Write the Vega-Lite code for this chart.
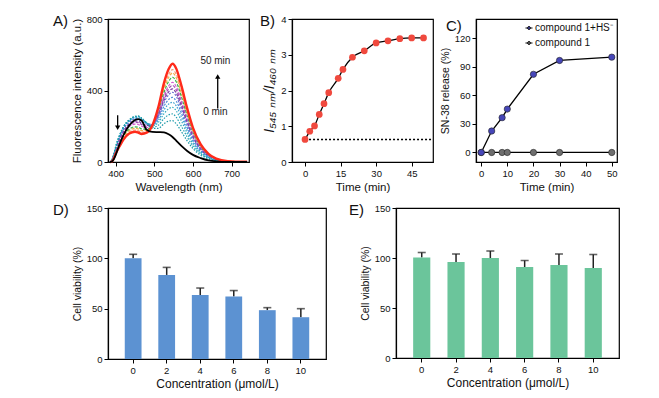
{
  "$schema": "https://vega.github.io/schema/vega-lite/v6.json",
  "padding": {"left": 52, "top": 13, "right": 5, "bottom": 5},
  "background": "white",
  "datasets": {
    "spec": [
      {"c":"1","w":385,"v":0},{"c":"1","w":390,"v":3},{"c":"1","w":395,"v":21},{"c":"1","w":400,"v":47},{"c":"1","w":410,"v":88},{"c":"1","w":420,"v":125},{"c":"1","w":435,"v":159},{"c":"1","w":450,"v":169},{"c":"1","w":458,"v":165},{"c":"1","w":467,"v":157},{"c":"1","w":480,"v":164},{"c":"1","w":495,"v":206},{"c":"1","w":510,"v":304},{"c":"1","w":525,"v":443},{"c":"1","w":537,"v":520},{"c":"1","w":547,"v":550},{"c":"1","w":557,"v":521},{"c":"1","w":570,"v":427},{"c":"1","w":585,"v":300},{"c":"1","w":600,"v":191},{"c":"1","w":620,"v":98},{"c":"1","w":640,"v":46},{"c":"1","w":660,"v":19},{"c":"1","w":690,"v":5},{"c":"1","w":740,"v":1},
      {"c":"2","w":385,"v":0},{"c":"2","w":390,"v":4},{"c":"2","w":395,"v":24},{"c":"2","w":400,"v":51},{"c":"2","w":410,"v":95},{"c":"2","w":420,"v":133},{"c":"2","w":435,"v":168},{"c":"2","w":450,"v":179},{"c":"2","w":458,"v":175},{"c":"2","w":467,"v":167},{"c":"2","w":480,"v":170},{"c":"2","w":495,"v":204},{"c":"2","w":510,"v":292},{"c":"2","w":525,"v":419},{"c":"2","w":537,"v":490},{"c":"2","w":547,"v":517},{"c":"2","w":557,"v":489},{"c":"2","w":570,"v":400},{"c":"2","w":585,"v":281},{"c":"2","w":600,"v":179},{"c":"2","w":620,"v":92},{"c":"2","w":640,"v":43},{"c":"2","w":660,"v":18},{"c":"2","w":690,"v":5},{"c":"2","w":740,"v":0},
      {"c":"3","w":385,"v":0},{"c":"3","w":390,"v":4},{"c":"3","w":395,"v":26},{"c":"3","w":400,"v":55},{"c":"3","w":410,"v":101},{"c":"3","w":420,"v":141},{"c":"3","w":435,"v":176},{"c":"3","w":450,"v":188},{"c":"3","w":458,"v":185},{"c":"3","w":467,"v":176},{"c":"3","w":480,"v":177},{"c":"3","w":495,"v":205},{"c":"3","w":510,"v":286},{"c":"3","w":525,"v":406},{"c":"3","w":537,"v":473},{"c":"3","w":547,"v":498},{"c":"3","w":557,"v":470},{"c":"3","w":570,"v":384},{"c":"3","w":585,"v":270},{"c":"3","w":600,"v":172},{"c":"3","w":620,"v":88},{"c":"3","w":640,"v":42},{"c":"3","w":660,"v":17},{"c":"3","w":690,"v":5},{"c":"3","w":740,"v":0},
      {"c":"4","w":385,"v":0},{"c":"4","w":390,"v":5},{"c":"4","w":395,"v":28},{"c":"4","w":400,"v":59},{"c":"4","w":410,"v":108},{"c":"4","w":420,"v":148},{"c":"4","w":435,"v":184},{"c":"4","w":450,"v":197},{"c":"4","w":458,"v":195},{"c":"4","w":467,"v":185},{"c":"4","w":480,"v":183},{"c":"4","w":495,"v":205},{"c":"4","w":510,"v":278},{"c":"4","w":525,"v":389},{"c":"4","w":537,"v":451},{"c":"4","w":547,"v":474},{"c":"4","w":557,"v":447},{"c":"4","w":570,"v":365},{"c":"4","w":585,"v":256},{"c":"4","w":600,"v":163},{"c":"4","w":620,"v":84},{"c":"4","w":640,"v":40},{"c":"4","w":660,"v":16},{"c":"4","w":690,"v":5},{"c":"4","w":740,"v":0},
      {"c":"5","w":385,"v":0},{"c":"5","w":390,"v":6},{"c":"5","w":395,"v":31},{"c":"5","w":400,"v":65},{"c":"5","w":410,"v":118},{"c":"5","w":420,"v":160},{"c":"5","w":435,"v":198},{"c":"5","w":450,"v":212},{"c":"5","w":458,"v":210},{"c":"5","w":467,"v":200},{"c":"5","w":480,"v":193},{"c":"5","w":495,"v":208},{"c":"5","w":510,"v":271},{"c":"5","w":525,"v":370},{"c":"5","w":537,"v":426},{"c":"5","w":547,"v":446},{"c":"5","w":557,"v":420},{"c":"5","w":570,"v":342},{"c":"5","w":585,"v":240},{"c":"5","w":600,"v":153},{"c":"5","w":620,"v":78},{"c":"5","w":640,"v":37},{"c":"5","w":660,"v":15},{"c":"5","w":690,"v":4},{"c":"5","w":740,"v":0},
      {"c":"6","w":385,"v":0},{"c":"6","w":390,"v":7},{"c":"6","w":395,"v":33},{"c":"6","w":400,"v":69},{"c":"6","w":410,"v":124},{"c":"6","w":420,"v":168},{"c":"6","w":435,"v":206},{"c":"6","w":450,"v":221},{"c":"6","w":458,"v":220},{"c":"6","w":467,"v":209},{"c":"6","w":480,"v":200},{"c":"6","w":495,"v":209},{"c":"6","w":510,"v":265},{"c":"6","w":525,"v":358},{"c":"6","w":537,"v":410},{"c":"6","w":547,"v":428},{"c":"6","w":557,"v":402},{"c":"6","w":570,"v":327},{"c":"6","w":585,"v":230},{"c":"6","w":600,"v":146},{"c":"6","w":620,"v":75},{"c":"6","w":640,"v":35},{"c":"6","w":660,"v":14},{"c":"6","w":690,"v":4},{"c":"6","w":740,"v":0},
      {"c":"7","w":385,"v":0},{"c":"7","w":390,"v":8},{"c":"7","w":395,"v":35},{"c":"7","w":400,"v":72},{"c":"7","w":410,"v":129},{"c":"7","w":420,"v":174},{"c":"7","w":435,"v":213},{"c":"7","w":450,"v":229},{"c":"7","w":458,"v":228},{"c":"7","w":467,"v":216},{"c":"7","w":480,"v":205},{"c":"7","w":495,"v":209},{"c":"7","w":510,"v":259},{"c":"7","w":525,"v":345},{"c":"7","w":537,"v":393},{"c":"7","w":547,"v":409},{"c":"7","w":557,"v":384},{"c":"7","w":570,"v":312},{"c":"7","w":585,"v":219},{"c":"7","w":600,"v":140},{"c":"7","w":620,"v":71},{"c":"7","w":640,"v":34},{"c":"7","w":660,"v":13},{"c":"7","w":690,"v":4},{"c":"7","w":740,"v":0},
      {"c":"8","w":385,"v":0},{"c":"8","w":390,"v":8},{"c":"8","w":395,"v":37},{"c":"8","w":400,"v":76},{"c":"8","w":410,"v":136},{"c":"8","w":420,"v":182},{"c":"8","w":435,"v":222},{"c":"8","w":450,"v":239},{"c":"8","w":458,"v":238},{"c":"8","w":467,"v":227},{"c":"8","w":480,"v":212},{"c":"8","w":495,"v":211},{"c":"8","w":510,"v":254},{"c":"8","w":525,"v":332},{"c":"8","w":537,"v":376},{"c":"8","w":547,"v":390},{"c":"8","w":557,"v":366},{"c":"8","w":570,"v":297},{"c":"8","w":585,"v":208},{"c":"8","w":600,"v":133},{"c":"8","w":620,"v":68},{"c":"8","w":640,"v":32},{"c":"8","w":660,"v":12},{"c":"8","w":690,"v":4},{"c":"8","w":740,"v":0},
      {"c":"9","w":385,"v":0},{"c":"9","w":390,"v":9},{"c":"9","w":395,"v":39},{"c":"9","w":400,"v":79},{"c":"9","w":410,"v":141},{"c":"9","w":420,"v":188},{"c":"9","w":435,"v":227},{"c":"9","w":450,"v":245},{"c":"9","w":458,"v":245},{"c":"9","w":467,"v":233},{"c":"9","w":480,"v":216},{"c":"9","w":495,"v":209},{"c":"9","w":510,"v":243},{"c":"9","w":525,"v":312},{"c":"9","w":537,"v":350},{"c":"9","w":547,"v":362},{"c":"9","w":557,"v":339},{"c":"9","w":570,"v":274},{"c":"9","w":585,"v":192},{"c":"9","w":600,"v":122},{"c":"9","w":620,"v":62},{"c":"9","w":640,"v":30},{"c":"9","w":660,"v":11},{"c":"9","w":690,"v":3},{"c":"9","w":740,"v":0},
      {"c":"10","w":385,"v":0},{"c":"10","w":390,"v":10},{"c":"10","w":395,"v":40},{"c":"10","w":400,"v":82},{"c":"10","w":410,"v":144},{"c":"10","w":420,"v":192},{"c":"10","w":435,"v":231},{"c":"10","w":450,"v":249},{"c":"10","w":458,"v":250},{"c":"10","w":467,"v":238},{"c":"10","w":480,"v":218},{"c":"10","w":495,"v":206},{"c":"10","w":510,"v":232},{"c":"10","w":525,"v":291},{"c":"10","w":537,"v":324},{"c":"10","w":547,"v":334},{"c":"10","w":557,"v":312},{"c":"10","w":570,"v":252},{"c":"10","w":585,"v":176},{"c":"10","w":600,"v":112},{"c":"10","w":620,"v":57},{"c":"10","w":640,"v":27},{"c":"10","w":660,"v":10},{"c":"10","w":690,"v":3},{"c":"10","w":740,"v":0},
      {"c":"11","w":385,"v":0},{"c":"11","w":390,"v":10},{"c":"11","w":395,"v":42},{"c":"11","w":400,"v":84},{"c":"11","w":410,"v":147},{"c":"11","w":420,"v":195},{"c":"11","w":435,"v":234},{"c":"11","w":450,"v":253},{"c":"11","w":458,"v":254},{"c":"11","w":467,"v":241},{"c":"11","w":480,"v":219},{"c":"11","w":495,"v":202},{"c":"11","w":510,"v":221},{"c":"11","w":525,"v":270},{"c":"11","w":537,"v":298},{"c":"11","w":547,"v":306},{"c":"11","w":557,"v":285},{"c":"11","w":570,"v":230},{"c":"11","w":585,"v":160},{"c":"11","w":600,"v":102},{"c":"11","w":620,"v":52},{"c":"11","w":640,"v":25},{"c":"11","w":660,"v":9},{"c":"11","w":690,"v":3},{"c":"11","w":740,"v":0},
      {"c":"12","w":385,"v":0},{"c":"12","w":390,"v":11},{"c":"12","w":395,"v":43},{"c":"12","w":400,"v":85},{"c":"12","w":410,"v":149},{"c":"12","w":420,"v":197},{"c":"12","w":435,"v":235},{"c":"12","w":450,"v":254},{"c":"12","w":458,"v":256},{"c":"12","w":467,"v":244},{"c":"12","w":480,"v":219},{"c":"12","w":495,"v":195},{"c":"12","w":510,"v":205},{"c":"12","w":525,"v":243},{"c":"12","w":537,"v":264},{"c":"12","w":547,"v":269},{"c":"12","w":557,"v":249},{"c":"12","w":570,"v":200},{"c":"12","w":585,"v":140},{"c":"12","w":600,"v":89},{"c":"12","w":620,"v":45},{"c":"12","w":640,"v":21},{"c":"12","w":660,"v":8},{"c":"12","w":690,"v":2},{"c":"12","w":740,"v":0},
      {"c":"13","w":385,"v":0},{"c":"13","w":390,"v":11},{"c":"13","w":395,"v":44},{"c":"13","w":400,"v":87},{"c":"13","w":410,"v":151},{"c":"13","w":420,"v":198},{"c":"13","w":435,"v":236},{"c":"13","w":450,"v":256},{"c":"13","w":458,"v":258},{"c":"13","w":467,"v":246},{"c":"13","w":480,"v":218},{"c":"13","w":495,"v":188},{"c":"13","w":510,"v":188},{"c":"13","w":525,"v":214},{"c":"13","w":537,"v":229},{"c":"13","w":547,"v":231},{"c":"13","w":557,"v":213},{"c":"13","w":570,"v":170},{"c":"13","w":585,"v":118},{"c":"13","w":600,"v":75},{"c":"13","w":620,"v":38},{"c":"13","w":640,"v":18},{"c":"13","w":660,"v":7},{"c":"13","w":690,"v":2},{"c":"13","w":740,"v":0},
      {"c":"k","w":385,"v":0},{"c":"k","w":390,"v":3},{"c":"k","w":395,"v":15},{"c":"k","w":400,"v":40},{"c":"k","w":410,"v":100},{"c":"k","w":420,"v":150},{"c":"k","w":435,"v":205},{"c":"k","w":450,"v":235},{"c":"k","w":458,"v":240},{"c":"k","w":467,"v":232},{"c":"k","w":480,"v":180},{"c":"k","w":495,"v":168},{"c":"k","w":510,"v":167},{"c":"k","w":525,"v":166},{"c":"k","w":537,"v":155},{"c":"k","w":547,"v":140},{"c":"k","w":557,"v":118},{"c":"k","w":570,"v":90},{"c":"k","w":585,"v":62},{"c":"k","w":600,"v":40},{"c":"k","w":620,"v":22},{"c":"k","w":640,"v":9},{"c":"k","w":660,"v":3},{"c":"k","w":690,"v":0},{"c":"k","w":740,"v":0}
    ]
  },
  "config": {
    "font": "Liberation Sans",
    "view": {"stroke": "black", "strokeWidth": 1.2},
    "axis": {"grid": false, "domainColor": "black", "domainWidth": 1.2, "tickColor": "black", "tickWidth": 1, "tickSize": 4, "labelFontSize": 9.5, "labelColor": "#111", "titleFontSize": 11.5, "titleFontWeight": "normal", "titleColor": "#111", "labelPadding": 2},
    "title": {"fontSize": 15, "fontWeight": "normal", "anchor": "start", "frame": "group", "baseline": "middle", "offset": 0, "dx": -55, "dy": 19, "color": "#111"}
  },
  "spacing": 8,
  "resolve": {"scale": {"color": "independent", "strokeDash": "independent", "shape": "independent"}},
  "vconcat": [
    {
      "resolve": {"scale": {"color": "independent", "strokeDash": "independent", "shape": "independent"}},
      "hconcat": [
        {
          "width": 141, "height": 143,
          "title": {"text": "A)"},
          "layer": [
            {
              "data": {"name": "spec"},
              "transform": [{"filter": "datum.c != '1' && datum.c != 'k'"}],
              "mark": {"type": "line", "interpolate": "monotone", "strokeWidth": 1.2},
              "encoding": {
                "x": {"field": "w", "type": "quantitative", "scale": {"domain": [380, 745], "nice": false}, "axis": {"values": [400, 500, 600, 700], "title": "Wavelength (nm)"}},
                "y": {"field": "v", "type": "quantitative", "scale": {"domain": [0, 800], "nice": false}, "axis": {"values": [0, 200, 400, 600, 800], "title": "Fluorescence intensity (a.u.)"}},
                "color": {"field": "c", "type": "nominal", "legend": null, "scale": {"domain": ["2","3","4","5","6","7","8","9","10","11","12","13"], "range": ["#f59a78","#f5b04c","#38b449","#d25ed2","#a24fb4","#7e3ea2","#6a72d2","#4c8ad8","#3aa0d0","#2ea8c0","#22a0b0","#1a98a8"]}},
                "strokeDash": {"field": "c", "type": "nominal", "legend": null, "scale": {"domain": ["2","3","4","5","6","7","8","9","10","11","12","13"], "range": [[3,1.5],[3,1.5],[3,1.5],[3,1.5],[3,1.5],[3,1.5],[2,1.5],[2,1.5],[1.5,1.5],[1.5,1.5],[1.5,1.5],[1.5,1.5]]}},
                "detail": {"field": "c"}
              }
            },
            {
              "data": {"name": "spec"},
              "transform": [{"filter": "datum.c == '1'"}],
              "mark": {"type": "line", "interpolate": "monotone", "strokeWidth": 2.4, "color": "#ff2a1a"},
              "encoding": {"x": {"field": "w", "type": "quantitative"}, "y": {"field": "v", "type": "quantitative"}}
            },
            {
              "data": {"name": "spec"},
              "transform": [{"filter": "datum.c == 'k'"}],
              "mark": {"type": "line", "interpolate": "monotone", "strokeWidth": 1.8, "color": "black"},
              "encoding": {"x": {"field": "w", "type": "quantitative"}, "y": {"field": "v", "type": "quantitative"}}
            },
            {
              "data": {"values": [{"w": 658, "v": 566, "t": "50 min"}, {"w": 658, "v": 282, "t": "0 min"}]},
              "mark": {"type": "text", "fontSize": 10, "color": "#222"},
              "encoding": {"x": {"field": "w", "type": "quantitative"}, "y": {"field": "v", "type": "quantitative"}, "text": {"field": "t"}}
            },
            {
              "data": {"values": [{"w": 664, "v1": 300, "v2": 470}, {"w": 405, "v1": 262, "v2": 200}]},
              "mark": {"type": "rule", "strokeWidth": 1.3, "color": "black"},
              "encoding": {"x": {"field": "w", "type": "quantitative"}, "y": {"field": "v1", "type": "quantitative"}, "y2": {"field": "v2"}}
            },
            {
              "data": {"values": [{"w": 664, "v": 478, "d": "up"}, {"w": 405, "v": 192, "d": "down"}]},
              "mark": {"type": "point", "filled": true, "size": 28, "color": "black", "opacity": 1},
              "encoding": {"x": {"field": "w", "type": "quantitative"}, "y": {"field": "v", "type": "quantitative"}, "shape": {"field": "d", "type": "nominal", "legend": null, "scale": {"domain": ["up", "down"], "range": ["triangle-up", "triangle-down"]}}}
            }
          ]
        },
        {
          "width": 141, "height": 143,
          "title": {"text": "B)", "dx": -32},
          "layer": [
            {
              "data": {"values": [{"t0": 0, "t1": 54, "r": 0.63}]},
              "mark": {"type": "rule", "strokeDash": [2, 2], "strokeWidth": 1.6, "color": "black"},
              "encoding": {"x": {"field": "t0", "type": "quantitative"}, "x2": {"field": "t1"}, "y": {"field": "r", "type": "quantitative"}}
            },
            {
              "data": {"values": [{"t":0,"r":0.63},{"t":2,"r":0.86},{"t":4,"r":1.01},{"t":6,"r":1.33},{"t":8,"r":1.63},{"t":10,"r":1.94},{"t":14,"r":2.34},{"t":16,"r":2.59},{"t":20,"r":2.93},{"t":25,"r":3.11},{"t":30,"r":3.33},{"t":35,"r":3.39},{"t":40,"r":3.45},{"t":45,"r":3.47},{"t":50,"r":3.47}]},
              "layer": [
                {"mark": {"type": "line", "interpolate": "monotone", "color": "black", "strokeWidth": 1.3}, "encoding": {"x": {"field": "t", "type": "quantitative"}, "y": {"field": "r", "type": "quantitative"}}},
                {"mark": {"type": "point", "filled": true, "size": 45, "color": "#f0493e", "opacity": 1}, "encoding": {"x": {"field": "t", "type": "quantitative"}, "y": {"field": "r", "type": "quantitative"}}}
              ]
            }
          ],
          "encoding": {
            "x": {"scale": {"domain": [-5.5, 54], "nice": false}, "axis": {"values": [0, 15, 30, 45], "title": "Time (min)"}},
            "y": {"scale": {"domain": [0, 4], "nice": false}, "axis": {"values": [0, 1, 2, 3, 4], "title": "I₅₄₅ ₙₘ/I₄₆₀ ₙₘ", "titleFontSize": 14, "titleFontStyle": "italic"}}
          }
        },
        {
          "width": 141, "height": 143,
          "title": {"text": "C)", "dx": -30},
          "data": {"values": [
            {"s":"compound 1","t":0,"p":0},{"s":"compound 1","t":4,"p":0},{"s":"compound 1","t":8,"p":0},{"s":"compound 1","t":10,"p":0},{"s":"compound 1","t":20,"p":0},{"s":"compound 1","t":30,"p":0},{"s":"compound 1","t":50,"p":0},
            {"s":"compound 1+HS⁻","t":0,"p":0},{"s":"compound 1+HS⁻","t":4,"p":22.5},{"s":"compound 1+HS⁻","t":8,"p":36.5},{"s":"compound 1+HS⁻","t":10,"p":45.5},{"s":"compound 1+HS⁻","t":20,"p":82},{"s":"compound 1+HS⁻","t":30,"p":96.5},{"s":"compound 1+HS⁻","t":50,"p":100}
          ]},
          "encoding": {
            "x": {"field": "t", "type": "quantitative", "scale": {"domain": [-2, 52], "nice": false}, "axis": {"values": [0, 10, 20, 30, 40, 50], "title": "Time (min)"}},
            "y": {"field": "p", "type": "quantitative", "scale": {"domain": [-10, 140], "nice": false}, "axis": {"values": [0, 30, 60, 90, 120], "title": "SN-38 release (%)", "titleFontSize": 10.5}}
          },
          "layer": [
            {"mark": {"type": "line", "color": "black", "strokeWidth": 1.3}, "encoding": {"detail": {"field": "s"}}},
            {"mark": {"type": "point", "filled": true, "size": 40, "opacity": 1, "stroke": "#222", "strokeWidth": 0.6},
             "encoding": {"color": {"field": "s", "type": "nominal", "scale": {"domain": ["compound 1+HS⁻", "compound 1"], "range": ["#4646b8", "#6e6e6e"]},
               "legend": {"title": null, "orient": "top-right", "offset": 2, "labelFontSize": 10, "labelColor": "#111", "symbolType": "M-1,0H-0.42M0.42,0H1M-0.42,0A0.42,0.42 0 1,0 0.42,0A0.42,0.42 0 1,0 -0.42,0Z", "symbolSize": 50, "symbolStrokeColor": "#111", "symbolStrokeWidth": 1, "rowPadding": 5, "labelOffset": 1, "padding": 2}}}}
          ]
        }
      ],
      "spacing": 43,
      "bounds": "flush"
    },
    {
      "resolve": {"scale": {"color": "independent"}},
      "hconcat": [
        {
          "width": 218, "height": 151,
          "title": {"text": "D)"},
          "data": {"values": [{"c":"0","v":100,"e":104},{"c":"2","v":83.5,"e":91},{"c":"4","v":63.5,"e":70.5},{"c":"6","v":62,"e":68},{"c":"8","v":48.5,"e":51},{"c":"10","v":41.5,"e":50}]},
          "encoding": {
            "x": {"field": "c", "type": "ordinal", "sort": null, "scale": {"paddingInner": 0.5, "paddingOuter": 0.5}, "axis": {"labelAngle": 0, "title": "Concentration (μmol/L)", "titleFontSize": 12}}
          },
          "layer": [
            {"mark": {"type": "rule", "color": "#222", "strokeWidth": 1.5}, "encoding": {"y": {"field": "v", "type": "quantitative"}, "y2": {"field": "e"}}},
            {"mark": {"type": "tick", "color": "#222", "thickness": 1.6, "size": 8}, "encoding": {"y": {"field": "e", "type": "quantitative"}}},
            {"mark": {"type": "bar", "color": "#5c92d2"}, "encoding": {"y": {"field": "v", "type": "quantitative", "scale": {"domain": [0, 150], "nice": false}, "axis": {"values": [0, 50, 100, 150], "title": "Cell viability (%)", "titleFontSize": 10.5}}}}
          ]
        },
        {
          "width": 223, "height": 150,
          "title": {"text": "E)", "dx": -47},
          "data": {"values": [{"c":"0","v":100.5,"e":105.5},{"c":"2","v":96,"e":104},{"c":"4","v":100,"e":107},{"c":"6","v":91,"e":97.5},{"c":"8","v":93,"e":104},{"c":"10","v":90,"e":103.5}]},
          "encoding": {
            "x": {"field": "c", "type": "ordinal", "sort": null, "scale": {"paddingInner": 0.5, "paddingOuter": 0.5}, "axis": {"labelAngle": 0, "title": "Concentration (μmol/L)", "titleFontSize": 12}}
          },
          "layer": [
            {"mark": {"type": "rule", "color": "#222", "strokeWidth": 1.5}, "encoding": {"y": {"field": "v", "type": "quantitative"}, "y2": {"field": "e"}}},
            {"mark": {"type": "tick", "color": "#222", "thickness": 1.6, "size": 8}, "encoding": {"y": {"field": "e", "type": "quantitative"}}},
            {"mark": {"type": "bar", "color": "#6bc59b"}, "encoding": {"y": {"field": "v", "type": "quantitative", "scale": {"domain": [0, 150], "nice": false}, "axis": {"values": [0, 50, 100, 150], "title": "Cell viability (%)", "titleFontSize": 10.5}}}}
          ]
        }
      ],
      "spacing": 70,
      "bounds": "flush"
    }
  ]
}
